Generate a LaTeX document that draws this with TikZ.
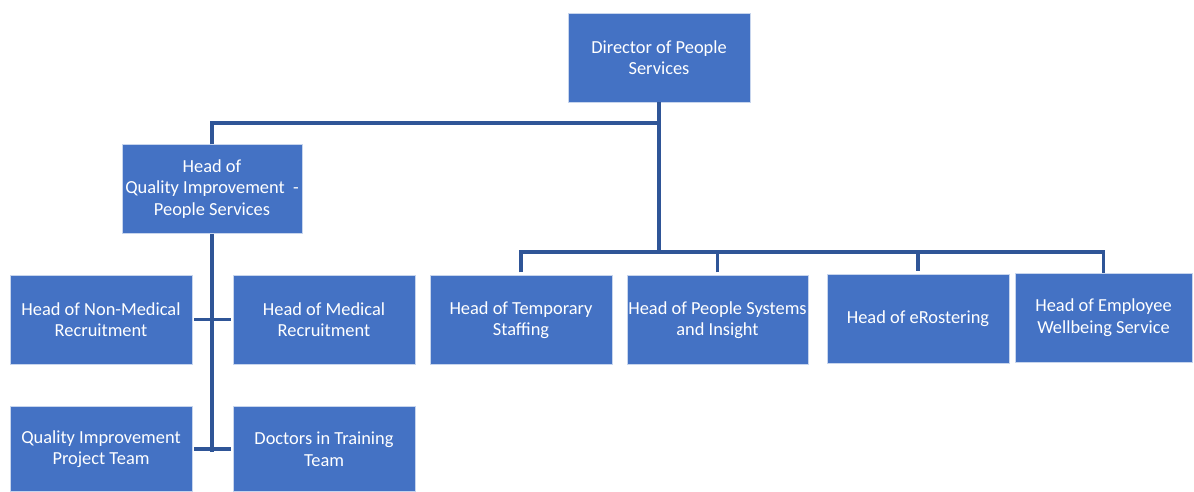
\documentclass[tikz,border=0pt]{standalone}
\usepackage{fontspec}
\setmainfont{Carlito}
\definecolor{boxblue}{RGB}{68,114,196}
\definecolor{linkblue}{RGB}{47,85,151}
\begin{document}
\begin{tikzpicture}[x=1pt,y=-1pt,
  orgbox/.style={rectangle, fill=boxblue, draw=white!70!boxblue, line width=0.5pt,
    text=white, font=\fontsize{18.4}{21.5}\selectfont, align=center, inner sep=0pt,
    minimum width=182pt, minimum height=89pt},
  conn/.style={draw=linkblue, line width=3.2pt},
  drop/.style={conn, shorten <=3pt}]
\useasboundingbox[fill=white] (0,0) rectangle (1194,491);
\node[orgbox] (dir) at (659,57.5) {Director of People\\Services};
\node[orgbox, minimum width=180pt] (qi) at (212,189) {Head of\\Quality Improvement~~-\\People Services};
\node[orgbox] (nonmed) at (101,319.5) {Head of Non-Medical\\Recruitment};
\node[orgbox] (med) at (324,319.5) {Head of Medical\\Recruitment};
\node[orgbox, minimum height=85pt] (qipt) at (101,449) {Quality Improvement\\Project Team};
\node[orgbox, minimum height=85pt] (dit) at (324,449) {Doctors in Training\\Team};
\node[orgbox] (temp) at (521,320) {Head of Temporary\\Staffing};
\node[orgbox, minimum width=181pt] (psys) at (717.5,320) {Head of People Systems\\and Insight};
\node[orgbox] (eros) at (918,318.5) {Head of eRostering};
\node[orgbox, minimum width=177pt] (ewb) at (1103.5,317.5) {Head of Employee\\Wellbeing Service};
\coordinate (qbus) at (212,123);
\coordinate (rbus) at (659,252);
\coordinate (lend) at (212,452);
\draw[conn] (qi.north) -- (qbus) -- (qbus -| dir.south);
\draw[conn] (dir.south) -- (rbus);
\draw[drop] (temp.north) -- (temp.north |- rbus) -- (ewb.north |- rbus) -- (ewb.north);
\draw[drop] (psys.north) -- (psys.north |- rbus);
\draw[drop] (eros.north) -- (eros.north |- rbus);
\draw[conn] (qi.south) -- (lend);
\draw[conn, shorten <=2pt, shorten >=2pt] (nonmed.east) -- (med.west);
\draw[conn, shorten <=2pt, shorten >=2pt] (qipt.east) -- (dit.west);
\end{tikzpicture}
\end{document}
